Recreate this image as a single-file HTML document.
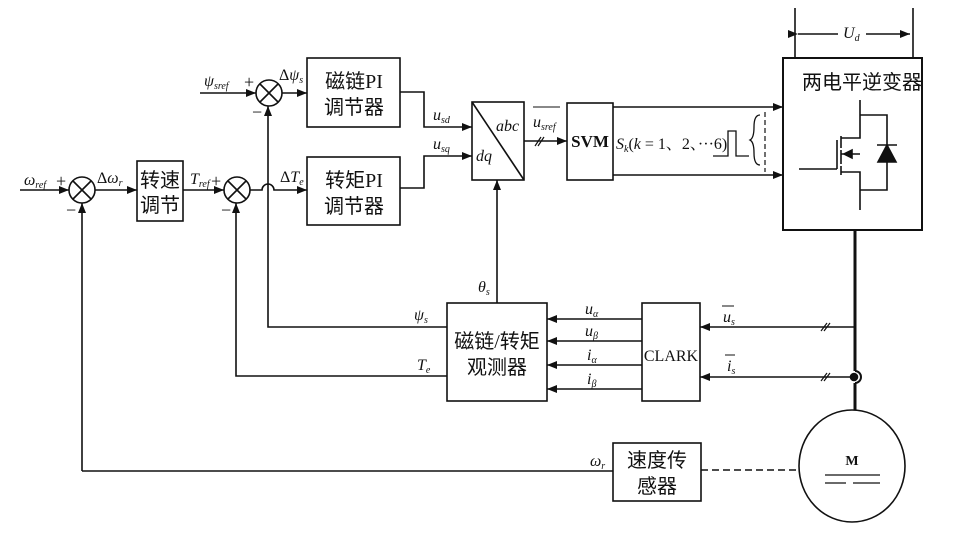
<!DOCTYPE html>
<html><head><meta charset="utf-8"><style>
html,body{margin:0;padding:0;background:#fff;}
svg{display:block;}
text{font-family:"Liberation Serif","Noto Serif CJK SC",serif;fill:#111;}
.cn{font-family:"Liberation Serif","Noto Sans CJK SC",sans-serif;font-size:20px;}
.it{font-style:italic;font-size:16px;}
</style></head><body>
<svg width="957" height="549" viewBox="0 0 957 549" xmlns="http://www.w3.org/2000/svg">
<defs><marker id="a" markerWidth="10" markerHeight="8" refX="10" refY="4" orient="auto" markerUnits="userSpaceOnUse"><path d="M0,0 L10,4 L0,8 Z" fill="#111"/></marker></defs>
<g stroke="#111" stroke-width="1.6" fill="none">
<circle cx="82" cy="190" r="13"/><path d="M73,181 L91,199 M91,181 L73,199"/>
<line x1="20" y1="190" x2="69" y2="190" marker-end="url(#a)"/>
<line x1="95" y1="190" x2="137" y2="190" marker-end="url(#a)"/>
<rect x="137" y="161" width="46" height="60"/>
<line x1="183" y1="190" x2="224" y2="190" marker-end="url(#a)"/>
<circle cx="237" cy="190" r="13"/><path d="M228,181 L246,199 M246,181 L228,199"/>
<path d="M250,190 L262,190 A6,6 0 0 1 274,190 L307,190" marker-end="url(#a)"/>
<circle cx="269" cy="93" r="13"/><path d="M260,84 L278,102 M278,84 L260,102"/>
<line x1="200" y1="93" x2="256" y2="93" marker-end="url(#a)"/>
<line x1="282" y1="93" x2="307" y2="93" marker-end="url(#a)"/>
<rect x="307" y="58" width="93" height="69"/>
<rect x="307" y="157" width="93" height="68"/>
<polyline points="82,471 82,203" marker-end="url(#a)"/>
<line x1="82" y1="471" x2="613" y2="471"/>
<polyline points="447,327 268,327 268,106" marker-end="url(#a)"/>
<polyline points="447,376 236,376 236,203" marker-end="url(#a)"/>
<polyline points="400,92 424,92 424,127 472,127" marker-end="url(#a)"/>
<polyline points="400,188 424,188 424,156 472,156" marker-end="url(#a)"/>
<rect x="472" y="102" width="52" height="78"/><line x1="472" y1="102" x2="524" y2="180"/>
<line x1="497" y1="303" x2="497" y2="180" marker-end="url(#a)"/>
<line x1="524" y1="141" x2="567" y2="141" marker-end="url(#a)"/>
<path d="M535,146 L541,137 M538,146 L544,137" stroke-width="1.2"/>
<rect x="567" y="103" width="46" height="77"/>
<line x1="613" y1="107" x2="783" y2="107" marker-end="url(#a)"/>
<line x1="613" y1="175" x2="783" y2="175" marker-end="url(#a)"/>
<polyline points="713,156 728,156 728,131 736,131 736,156 749,156" stroke-width="1.3"/>
<path d="M760,115 Q754,115 754,127 Q754,138 750,140 Q754,142 754,153 Q754,165 760,165" stroke-width="1.3"/>
<line x1="765" y1="112" x2="765" y2="172" stroke-dasharray="5,3" stroke-width="1.2"/>
<rect x="783" y="58" width="139" height="172" stroke-width="2"/>
<line x1="795" y1="8" x2="795" y2="58"/><line x1="913" y1="8" x2="913" y2="58"/>
<line x1="798" y1="34" x2="838" y2="34" marker-start="url(#a)"/>
<line x1="866" y1="34" x2="910" y2="34" marker-end="url(#a)"/>
<line x1="799" y1="169" x2="837" y2="169"/>
<line x1="837" y1="140" x2="837" y2="169"/>
<line x1="841" y1="136" x2="841" y2="148"/><line x1="841" y1="150" x2="841" y2="164"/><line x1="841" y1="166" x2="841" y2="175"/>
<polyline points="860,100 860,138 841,138"/>
<polyline points="841,172 860,172 860,210"/>
<line x1="841" y1="154" x2="860" y2="154"/><path d="M844,154 L852,150 L852,158 Z" fill="#111"/>
<polyline points="860,115 887,115 887,190 860,190"/>
<path d="M878,162 L896,162 L887,145 Z" fill="#111"/><line x1="877" y1="145" x2="897" y2="145"/>
<line x1="855" y1="230" x2="855" y2="371" stroke-width="3"/>
<line x1="855" y1="383" x2="855" y2="410" stroke-width="3"/>
<path d="M855,371 A6,6 0 0 1 855,383" stroke-width="2"/>
<circle cx="854" cy="377" r="3.5" fill="#111"/>
<rect x="447" y="303" width="100" height="98"/>
<rect x="642" y="303" width="58" height="98"/>
<line x1="642" y1="319" x2="547" y2="319" marker-end="url(#a)"/>
<line x1="642" y1="341" x2="547" y2="341" marker-end="url(#a)"/>
<line x1="642" y1="365" x2="547" y2="365" marker-end="url(#a)"/>
<line x1="642" y1="389" x2="547" y2="389" marker-end="url(#a)"/>
<line x1="855" y1="327" x2="700" y2="327" marker-end="url(#a)"/>
<line x1="851" y1="377" x2="700" y2="377" marker-end="url(#a)"/>
<path d="M821,331 L827,323 M824,331 L830,323 M821,381 L827,373 M824,381 L830,373" stroke-width="1.2"/>
<rect x="613" y="443" width="88" height="58"/>
<line x1="701" y1="470" x2="799" y2="470" stroke-dasharray="7,4"/>
<ellipse cx="852" cy="466" rx="53" ry="56"/>
<line x1="825" y1="475" x2="880" y2="475" stroke-width="1.3"/>
<line x1="825" y1="483" x2="846" y2="483" stroke-width="1.3"/><line x1="853" y1="483" x2="880" y2="483" stroke-width="1.3"/>
<line x1="533" y1="107" x2="560" y2="107" stroke-width="1"/>
</g>
<text class="cn" x="160" y="187" text-anchor="middle">转速</text>
<text class="cn" x="160" y="212" text-anchor="middle">调节</text>
<text class="cn" x="354" y="88" text-anchor="middle">磁链PI</text>
<text class="cn" x="354" y="114" text-anchor="middle">调节器</text>
<text class="cn" x="354" y="187" text-anchor="middle">转矩PI</text>
<text class="cn" x="354" y="213" text-anchor="middle">调节器</text>
<text class="cn" x="497" y="348" text-anchor="middle">磁链/转矩</text>
<text class="cn" x="497" y="374" text-anchor="middle">观测器</text>
<text class="cn" x="657" y="467" text-anchor="middle">速度传</text>
<text class="cn" x="657" y="493" text-anchor="middle">感器</text>
<text class="cn" x="862" y="89" text-anchor="middle">两电平逆变器</text>
<text x="590" y="147" font-size="17" font-weight="bold" text-anchor="middle">SVM</text>
<text x="671" y="361" font-size="16" text-anchor="middle">CLARK</text>
<text x="852" y="465" font-size="14" text-anchor="middle" font-weight="bold">M</text>
<text class="it" x="24" y="185">ω<tspan font-size="10" dy="3">ref</tspan></text>
<text x="56" y="187" font-size="18">+</text>
<text x="66" y="216" font-size="18">−</text>
<text class="it" x="97" y="183"><tspan font-style="normal">Δ</tspan>ω<tspan font-size="10" dy="3">r</tspan></text>
<text class="it" x="190" y="184">T<tspan font-size="10" dy="3">ref</tspan></text>
<text x="211" y="187" font-size="18">+</text>
<text x="221" y="216" font-size="18">−</text>
<text class="it" x="204" y="86">ψ<tspan font-size="10" dy="3">sref</tspan></text>
<text x="244" y="88" font-size="18">+</text>
<text x="252" y="118" font-size="18">−</text>
<text class="it" x="279" y="80"><tspan font-style="normal">Δ</tspan>ψ<tspan font-size="10" dy="3">s</tspan></text>
<text class="it" x="280" y="182"><tspan font-style="normal">Δ</tspan>T<tspan font-size="10" dy="3">e</tspan></text>
<text class="it" x="433" y="120">u<tspan font-size="10" dy="3">sd</tspan></text>
<text class="it" x="433" y="149">u<tspan font-size="10" dy="3">sq</tspan></text>
<text class="it" x="496" y="131" font-size="17">abc</text>
<text class="it" x="476" y="161" font-size="17">dq</text>
<text class="it" x="533" y="127">u<tspan font-size="10" dy="3">sref</tspan></text>
<text class="it" x="616" y="149" font-size="17">S<tspan font-size="10" dy="3">k</tspan><tspan dy="-3" font-style="normal">(</tspan>k<tspan font-style="normal"> = 1、2、···6)</tspan></text>
<text class="it" x="843" y="38" font-size="17">U<tspan font-size="10" dy="3">d</tspan></text>
<text class="it" x="478" y="292">θ<tspan font-size="10" dy="3">s</tspan></text>
<text class="it" x="414" y="320">ψ<tspan font-size="10" dy="3">s</tspan></text>
<text class="it" x="417" y="370">T<tspan font-size="10" dy="3">e</tspan></text>
<text class="it" x="585" y="314">u<tspan font-size="10" dy="3">α</tspan></text>
<text class="it" x="585" y="336">u<tspan font-size="10" dy="3">β</tspan></text>
<text class="it" x="587" y="360">i<tspan font-size="10" dy="3">α</tspan></text>
<text class="it" x="587" y="384">i<tspan font-size="10" dy="3">β</tspan></text>
<text class="it" x="723" y="322">u<tspan font-size="10" dy="3">s</tspan></text>
<line x1="722" y1="306" x2="734" y2="306" stroke="#111"/>
<text class="it" x="727" y="371">i<tspan font-size="10" dy="3">s</tspan></text>
<line x1="725" y1="355" x2="735" y2="355" stroke="#111"/>
<text class="it" x="590" y="466">ω<tspan font-size="10" dy="3">r</tspan></text>
</svg>
</body></html>
